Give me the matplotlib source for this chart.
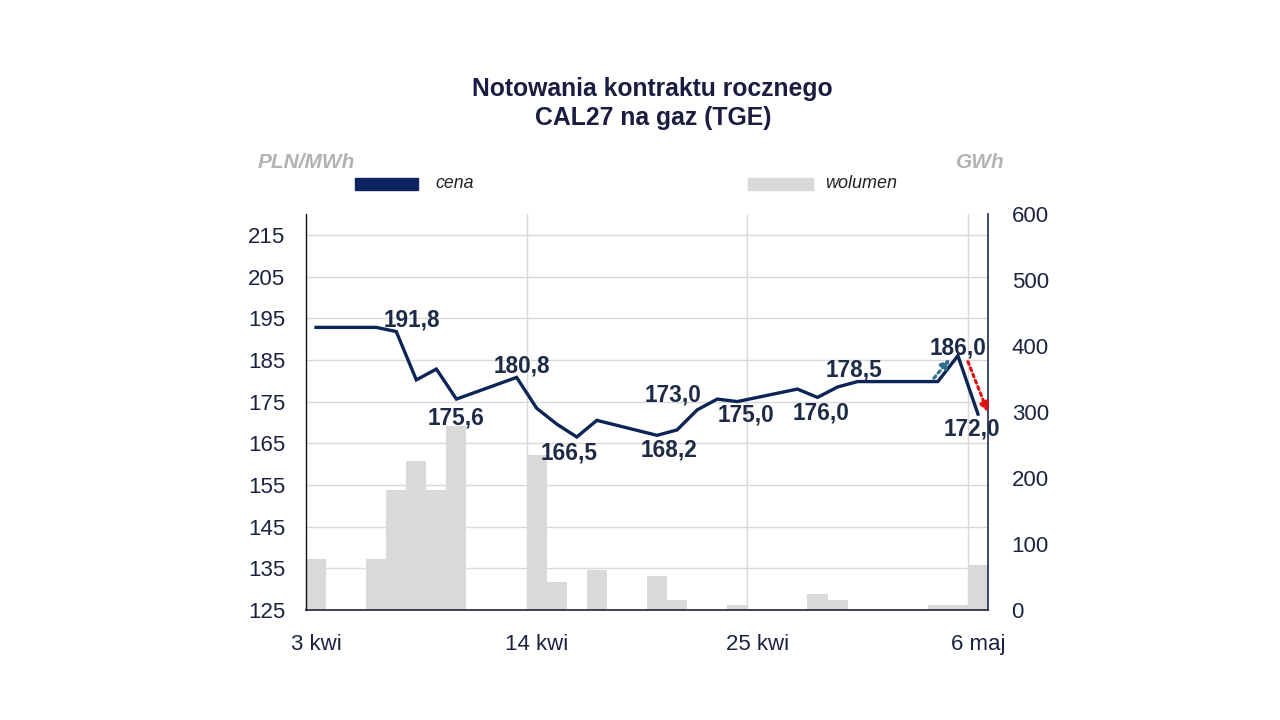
import numpy as np
import matplotlib
matplotlib.use("Agg")
import matplotlib.pyplot as plt
from matplotlib.transforms import blended_transform_factory

plt.rcParams['font.family'] = ['Liberation Sans', 'DejaVu Sans']

# ---- data (daily, 3 kwi .. 6 maj) ----
nan = np.nan
price = [192.8, nan, nan, 192.8, 191.8, 180.2, 182.8, 175.6, nan, nan,
         180.8, 173.4, 169.6, 166.5, 170.5, nan, nan, 166.9, 168.2, 173.0,
         175.6, 175.0, nan, nan, 178.0, 176.0, 178.5, 179.8, nan, nan,
         nan, 179.8, 186.0, 172.0]
volume = [77, 0, 0, 77, 182, 226, 182, 279, 0, 0,
          0, 235, 43, 0, 60, 0, 0, 52, 15, 0,
          0, 7.5, 0, 0, 0, 24, 15, 0, 0, 0,
          0, 7.5, 7.5, 68]
xtick_pos = [0, 11, 22, 33]
xtick_labels = ['3 kwi', '14 kwi', '25 kwi', '6 maj']
price_ticks = list(range(125, 216, 10))
vol_ticks = list(range(0, 601, 100))
# labelled points: (day index, dx px, dy px)
labels = [(4, 16, 12), (7, 0, -19), (10, 5, 11), (13, -8, -16), (18, -8, -20),
          (19, -24, 15), (21, 9, -13), (25, 4, -16), (26, 16, 17), (32, 0, 8),
          (33, -6, -15)]

NAVY = '#0c2556'
TXT = '#1c2340'
LBL = '#1d2b47'
GRID = '#d9d9d9'
BAR = '#d9d9d9'

days = np.arange(len(price))
price = np.array(price, dtype=float)
mask = ~np.isnan(price)

fig = plt.figure(figsize=(12.8, 7.2), dpi=100)
ax_v = fig.add_axes([306/1280, 1-610/720, 682/1280, 396/720])
ax_p = ax_v.twinx()
ax_p.set_zorder(ax_v.get_zorder() + 1)
ax_p.patch.set_visible(False)

# volume bars (bottom layer)
ax_v.bar(days, volume, width=1.0, color=BAR, zorder=2)
ax_v.set_ylim(0, 600)
ax_v.set_xlim(-0.5, len(price) - 0.5)
ax_v.yaxis.tick_right()
ax_v.set_yticks(vol_ticks)
ax_v.set_xticks(xtick_pos)
ax_v.set_xticklabels(xtick_labels)

# gridlines behind bars
ax_p.set_ylim(125, 220)
ax_p.yaxis.tick_left()
ax_p.set_yticks(price_ticks)
tr = blended_transform_factory(ax_v.transAxes, ax_p.transData)
ax_v.hlines(price_ticks, 0, 1, transform=tr, colors=GRID, lw=1.0, zorder=0.5)
for b in [10.5, 21.5, 32.5]:
    ax_v.axvline(b, color=GRID, lw=1.0, zorder=0.5)

# price line
ax_p.plot(days[mask], price[mask], color=NAVY, lw=2.4, zorder=3,
          solid_joinstyle='miter')

for d, dx, dy in labels:
    ax_p.annotate(f"{price[d]:.1f}".replace('.', ','), (d, price[d]),
                  xytext=(dx, dy), textcoords='offset pixels',
                  ha='center', va='center', fontsize=16.3, fontweight='bold',
                  color=LBL, zorder=5)

# dotted arrows
ax_p.annotate('', xy=(31.6, 185.2), xytext=(30.8, 180.6),
              arrowprops=dict(arrowstyle='-|>', color='#2f6f8f', lw=2.2,
                              linestyle=(0, (1, 1.2)), mutation_scale=13,
                              shrinkA=0, shrinkB=0), zorder=4)
ax_p.annotate('', xy=(33.5, 172.4), xytext=(32.5, 184.6),
              arrowprops=dict(arrowstyle='-|>', color='#e01010', lw=2.2,
                              linestyle=(0, (1, 1.2)), mutation_scale=14,
                              shrinkA=0, shrinkB=0), zorder=4)

# spines & ticks
for a in (ax_v, ax_p):
    a.spines['top'].set_visible(False)
ax_v.spines['left'].set_visible(False)
ax_p.spines['bottom'].set_visible(False)
ax_v.spines['right'].set_visible(False)
ax_p.spines['left'].set_color('#111111')
ax_p.spines['right'].set_color('#1c2a50')
ax_p.spines['left'].set_linewidth(1.0)
ax_p.spines['right'].set_linewidth(1.2)
ax_v.spines['bottom'].set_color('#1c2340')
ax_v.spines['bottom'].set_linewidth(1.2)
ax_v.tick_params(axis='x', length=0, pad=17, labelsize=16, labelcolor=TXT)
ax_v.tick_params(axis='y', length=0, pad=17, labelsize=16, labelcolor=TXT)
ax_p.tick_params(axis='y', length=0, pad=15, labelsize=16, labelcolor=TXT)

# titles and legend
fig.text(652/1280, 1-89/720, 'Notowania kontraktu rocznego', ha='center',
         va='center', fontsize=17.8, fontweight='bold', color='#1b1d40')
fig.text(653/1280, 1-118/720, 'CAL27 na gaz (TGE)', ha='center',
         va='center', fontsize=17.8, fontweight='bold', color='#1b1d40')
fig.text(258/1280, 1-162/720, 'PLN/MWh', ha='left', va='center', fontsize=15,
         fontweight='bold', fontstyle='italic', color='#b3b3b3')
fig.text(1005/1280, 1-162/720, 'GWh', ha='right', va='center', fontsize=15,
         fontweight='bold', fontstyle='italic', color='#b3b3b3')
fig.patches.append(plt.Rectangle((355/1280, 1-190/720), 63/1280, 12/720,
                                 transform=fig.transFigure, color='#0c2460'))
fig.text(435/1280, 1-183/720, 'cena', ha='left', va='center', fontsize=12.8,
         fontstyle='italic', color='#222222')
fig.patches.append(plt.Rectangle((748/1280, 1-190/720), 65/1280, 12/720,
                                 transform=fig.transFigure, color=BAR))
fig.text(825/1280, 1-184/720, 'wolumen', ha='left', va='center', fontsize=13,
         fontstyle='italic', color='#222222')

fig.savefig('out.png', dpi=100, facecolor='white')
